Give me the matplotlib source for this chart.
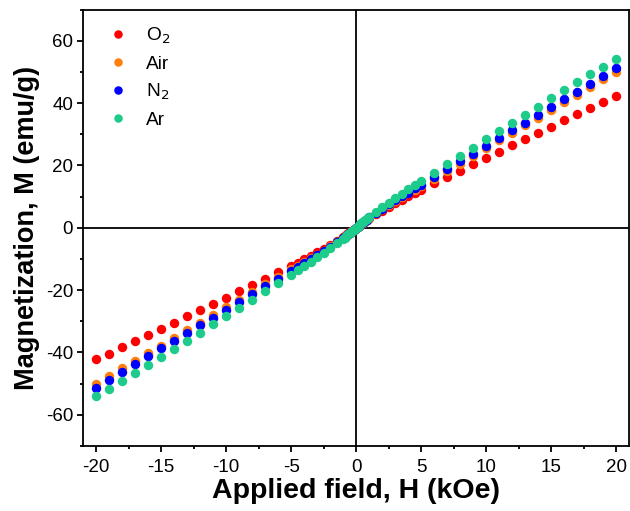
import matplotlib
matplotlib.use("Agg")
import matplotlib.pyplot as plt
from matplotlib.ticker import MultipleLocator

plt.rcParams["font.family"] = ["Liberation Sans", "DejaVu Sans"]
plt.rcParams["axes.unicode_minus"] = False

# applied field (kOe)
H = [-20, -19, -18, -17, -16, -15, -14, -13, -12, -11, -10, -9, -8, -7, -6,
     -5, -4.5, -4, -3.5, -3, -2.5, -2, -1.5, -1,
     -0.9, -0.8, -0.7, -0.6, -0.5, -0.4, -0.3, -0.2, -0.1, 0,
     0.1, 0.2, 0.3, 0.4, 0.5, 0.6, 0.7, 0.8, 0.9,
     1, 1.5, 2, 2.5, 3, 3.5, 4, 4.5, 5,
     6, 7, 8, 9, 10, 11, 12, 13, 14, 15, 16, 17, 18, 19, 20]

# magnetization (emu/g)
M_o2 = [-42.2, -40.4, -38.4, -36.4, -34.4, -32.4, -30.4, -28.4, -26.4, -24.4, -22.4, -20.4, -18.3, -16.3, -14.2,
        -12.2, -11.2, -10.1, -9.0, -7.9, -6.7, -5.5, -4.3, -3.0,
        -2.7, -2.4, -2.1, -1.8, -1.5, -1.2, -0.9, -0.6, -0.3, 0.0,
        0.3, 0.6, 0.9, 1.2, 1.5, 1.8, 2.1, 2.4, 2.7,
        3.0, 4.3, 5.5, 6.7, 7.9, 9.0, 10.1, 11.2, 12.2,
        14.2, 16.3, 18.3, 20.4, 22.4, 24.4, 26.4, 28.4, 30.4, 32.4, 34.4, 36.4, 38.4, 40.4, 42.4]
M_air = [-50.1, -47.6, -45.1, -42.7, -40.2, -37.8, -35.3, -32.9, -30.4, -28.0, -25.5, -23.1, -20.6, -18.2, -15.7,
         -13.3, -12.2, -11.0, -9.8, -8.6, -7.3, -6.0, -4.6, -3.2,
         -2.9, -2.6, -2.2, -1.9, -1.6, -1.3, -1.0, -0.6, -0.3, 0.0,
         0.3, 0.6, 1.0, 1.3, 1.6, 1.9, 2.2, 2.6, 2.9,
         3.2, 4.6, 6.0, 7.3, 8.6, 9.8, 11.0, 12.2, 13.3,
         15.7, 18.2, 20.6, 23.1, 25.5, 28.0, 30.4, 32.9, 35.3, 37.8, 40.2, 42.7, 45.1, 47.6, 50.0]
M_n2 = [-51.3, -48.7, -46.2, -43.7, -41.2, -38.7, -36.2, -33.7, -31.2, -28.8, -26.3, -23.8, -21.3, -18.8, -16.3,
        -13.8, -12.6, -11.3, -10.1, -8.8, -7.5, -6.1, -4.7, -3.3,
        -3.0, -2.6, -2.3, -2.0, -1.7, -1.3, -1.0, -0.7, -0.3, 0.0,
        0.3, 0.7, 1.0, 1.3, 1.7, 2.0, 2.3, 2.6, 3.0,
        3.3, 4.7, 6.1, 7.5, 8.8, 10.1, 11.3, 12.6, 13.8,
        16.3, 18.8, 21.3, 23.8, 26.3, 28.8, 31.2, 33.7, 36.2, 38.7, 41.2, 43.7, 46.2, 48.7, 51.2]
M_ar = [-54.1, -51.7, -49.2, -46.6, -44.1, -41.5, -38.8, -36.3, -33.6, -31.0, -28.4, -25.7, -23.1, -20.4, -17.7,
        -15.0, -13.7, -12.3, -10.9, -9.4, -8.0, -6.5, -5.0, -3.5,
        -3.15, -2.8, -2.45, -2.1, -1.75, -1.4, -1.05, -0.7, -0.35, 0.0,
        0.35, 0.7, 1.05, 1.4, 1.75, 2.1, 2.45, 2.8, 3.15,
        3.5, 5.0, 6.5, 8.0, 9.4, 10.9, 12.3, 13.7, 15.0,
        17.7, 20.4, 23.1, 25.7, 28.4, 31.0, 33.6, 36.3, 38.8, 41.5, 44.1, 46.6, 49.2, 51.7, 54.1]

series = [("O$_2$", M_o2, "#ff0000"),
          ("Air", M_air, "#ff7f0e"),
          ("N$_2$", M_n2, "#0000ff"),
          ("Ar", M_ar, "#1dcb8a")]

fig = plt.figure(figsize=(6.3, 5.11), dpi=100)
ax = fig.add_axes([0.1317, 0.1272, 0.8675, 0.8542])

ax.axhline(0, color="black", lw=1.3, zorder=1)
ax.axvline(0, color="black", lw=1.3, zorder=1)

for lab, m, col in series:
    ax.plot(H, m, "o", color=col, ms=6.8, mew=0, label=lab, zorder=3)

ax.set_xlim(-21, 21)
ax.set_ylim(-70, 70)
ax.xaxis.set_major_locator(MultipleLocator(5))
ax.xaxis.set_minor_locator(MultipleLocator(2.5))
ax.yaxis.set_major_locator(MultipleLocator(20))
ax.yaxis.set_minor_locator(MultipleLocator(10))
ax.tick_params(which="both", direction="out", width=1.3, labelsize=13.5)
ax.tick_params(axis="x", which="both", pad=5)
ax.tick_params(axis="y", which="both", pad=3)
ax.tick_params(which="major", length=4)
ax.tick_params(which="minor", length=2.4)
for s in ax.spines.values():
    s.set_linewidth(1.3)

ax.set_xlabel("Applied field, H (kOe)", fontsize=20.5, fontweight="bold", labelpad=2)
ax.set_ylabel("Magnetization, M (emu/g)", fontsize=19.5, fontweight="bold", labelpad=4)

ax.legend(loc="upper left", frameon=False, fontsize=13.8, handletextpad=1.0,
          labelspacing=0.48, borderaxespad=0.0, bbox_to_anchor=(0.032, 0.98),
          handlelength=1.0, markerscale=0.9)

fig.savefig("out.png", dpi=100)
